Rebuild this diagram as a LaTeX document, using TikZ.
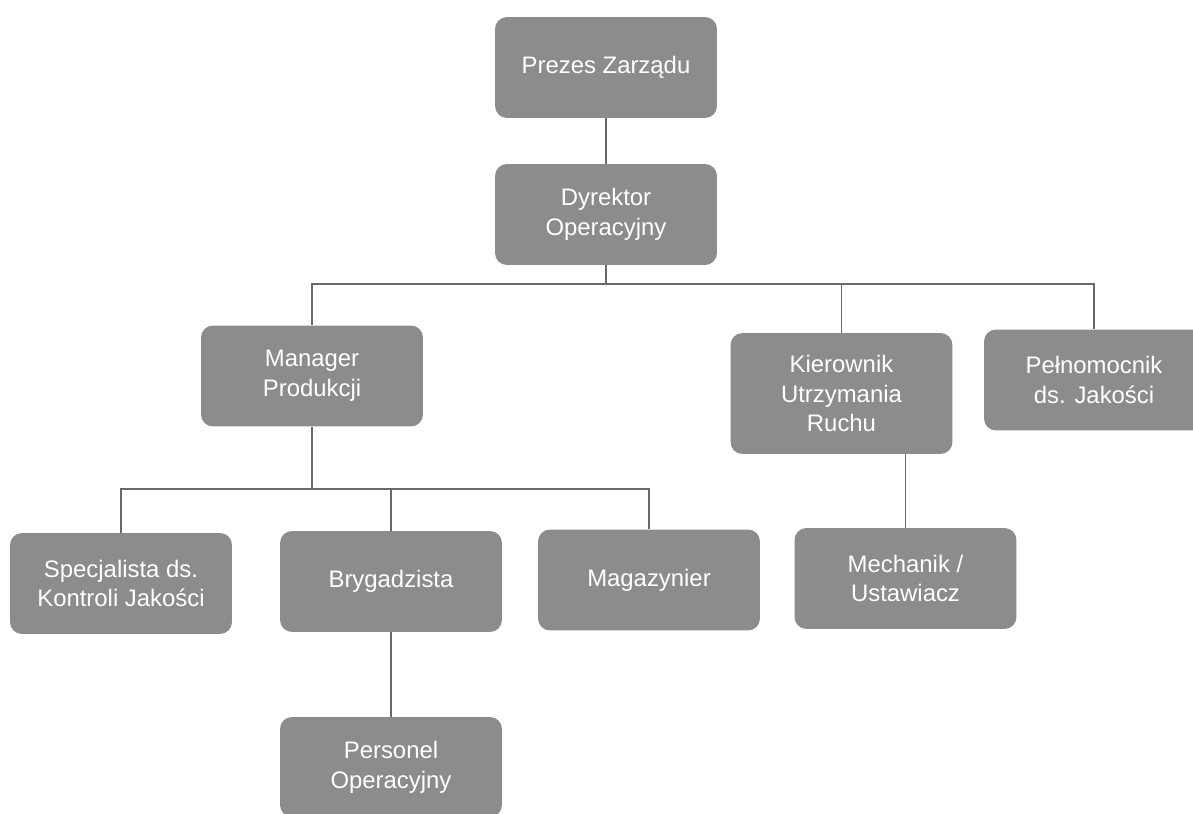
\documentclass[tikz,border=0pt]{standalone}
\usepackage{fontspec}
\setmainfont{Liberation Sans}
\definecolor{boxgray}{HTML}{8C8C8C}
\definecolor{linegray}{HTML}{6A6A6A}

\begin{document}
\begin{tikzpicture}[x=0.02cm,y=-0.02cm,
    post/.style={rectangle,rounded corners=0.24cm,fill=boxgray,text=white,
      minimum width=4.44cm,minimum height=2.02cm,align=center,inner sep=2pt,
      font=\fontsize{13.6}{17}\selectfont},
    link/.style={draw=linegray,line width=1.1pt}]
      \useasboundingbox (0,0) rectangle (1193,814);
      \node (prez) at (606,67.5) [post] {Prezes Zarządu};
      \node (dyr) at (606,214.5) [post] {Dyrektor\\Operacyjny};
      \node (man) at (312,376) [post] {Manager\\Produkcji};
      \node (kier) at (841.5,393.5) [post,minimum height=2.42cm] {Kierownik\\Utrzymania\\Ruchu};
      \node (peln) at (1094,380) [post,minimum width=4.4cm] {Pełnomocnik\\ds. Jakości};
      \node (spec) at (121,583.5) [post] {Specjalista ds.\\Kontroli Jakości};
      \node (bryg) at (391,581.5) [post] {Brygadzista};
      \node (mag) at (649,580) [post] {Magazynier};
      \node (mech) at (905.5,578.5) [post] {Mechanik /\\Ustawiacz};
      \node (pers) at (391,767) [post,minimum height=2cm] {Personel\\Operacyjny};
      \coordinate (bus1) at (606,284);
      \coordinate (bus2) at (312,489);
      \draw [link] (prez) -- (dyr);
      \draw [link] (dyr.south) -- (bus1);
      \draw [link] (man.north) |- (bus1) -| (peln.north);
      \draw [link] (bus1) -| (kier.north);
      \draw [link] (man.south) -- (bus2);
      \draw [link] (spec.north) |- (bus2) -| (mag.north);
      \draw [link] (bus2) -| (bryg.north);
      \draw [link] (bryg.south) -- (pers.north);
      \draw [link] (kier.south -| mech.north) -- (mech.north);
    \end{tikzpicture}
\end{document}
